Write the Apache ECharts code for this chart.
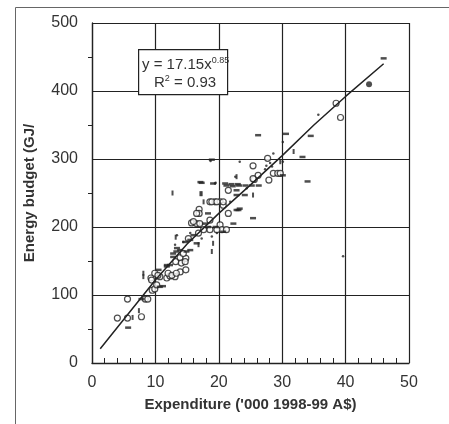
<!DOCTYPE html>
<html>
<head>
<meta charset="utf-8">
<script src="https://cdn.jsdelivr.net/npm/echarts@6/dist/echarts.min.js"></script>
<style>
  html, body { margin: 0; padding: 0; background: #fff; }
  #chart { width: 449px; height: 424px; }
</style>
</head>
<body>
<div id="chart"></div>
<script>
// values
const xTicks = [0, 10, 20, 30, 40, 50]
const yTicks = [0, 100, 200, 300, 400, 500]

// open circles
const circlePts = [
  [5.6, 94], [4.0, 66], [5.6, 66], [7.8, 68], [8.4, 94], [8.8, 94],
  [9.5, 107], [9.9, 109], [10.2, 115], [9.3, 125], [10.7, 127], [11.8, 125],
  [12.3, 128], [13.1, 127], [13.9, 134], [14.8, 137], [9.9, 132], [13.2, 149],
  [13.9, 155], [14.1, 147], [14.8, 154], [15.7, 206], [16.5, 205], [16.9, 226],
  [16.9, 220], [18.6, 237], [19.4, 237], [20.2, 237], [21.5, 220], [25.4, 290],
  [25.6, 270], [26.2, 276], [27.7, 301], [27.9, 269], [28.6, 279], [29.3, 279],
  [38.5, 382], [39.2, 361], [9.4, 122], [12.0, 132], [12.6, 129], [13.3, 132],
  [14.7, 149], [21.5, 254], [18.9, 237], [19.7, 237], [20.7, 232], [16.5, 220],
  [18.6, 210], [16.0, 208], [20.2, 203], [20.5, 196], [19.7, 196], [18.6, 196],
  [17.6, 196], [16.8, 191], [29.7, 279], [25.4, 271], [20.7, 237], [21.2, 196],
  [17.0, 205], [15.2, 183], [10.4, 129], [14.4, 161]
]

// short horizontal dashes
const dashPts = [
  [5.7, 52], [7.8, 94], [11.2, 113], [10.5, 137], [11.8, 142], [12.3, 144],
  [12.8, 156], [13.3, 164], [13.9, 166], [14.9, 164], [15.5, 166], [17.1, 266],
  [22.3, 205], [23.1, 225], [23.2, 261], [24.2, 261], [25.2, 261], [26.3, 261],
  [25.4, 213], [26.2, 335], [30.1, 276], [30.6, 337], [33.2, 303], [34.5, 334],
  [34.0, 267], [46.0, 448], [17.3, 265], [19.1, 264], [21.0, 264], [22.0, 263],
  [23.0, 263], [22.8, 247], [23.3, 227], [18.3, 220], [20.7, 193], [18.9, 299],
  [21.2, 261], [22.2, 260], [22.8, 254], [24.1, 247], [22.8, 225], [16.5, 176],
  [11.8, 144], [10.7, 112], [17.8, 205], [12.8, 161], [15.5, 181], [14.7, 178],
  [13.4, 169], [16.0, 188], [18.3, 200], [19.5, 200]
]

// small vertical ticks
const tickPts = [
  [7.4, 77], [8.1, 132], [8.1, 127], [13.2, 185], [12.7, 250], [17.1, 249],
  [25.4, 247], [31.8, 311], [17.6, 237], [18.9, 164], [22.8, 274], [17.3, 249],
  [29.7, 296], [19.1, 176], [16.8, 174], [6.4, 67]
]

// dots and specks
const dotPts = [
  [23.3, 296], [18.7, 297], [27.5, 290], [27.3, 285], [28.6, 308], [30.1, 296],
  [30.1, 325], [35.7, 365], [39.6, 157], [28.1, 294], [28.4, 289], [19.4, 264],
  [21.8, 237], [18.9, 186], [17.3, 183], [13.4, 188], [13.1, 174], [19.5, 265],
  [22.6, 274], [14.4, 178], [19.7, 191], [15.5, 191], [24.4, 257]
]

// solid marker
const filledPts = [[43.7, 410]]

// fitted line, points
const fitX = [1.3, 5, 10, 15, 20, 25, 30, 35, 40, 46]
const fitY = [21, 64, 122, 175, 220, 262, 305, 350, 392, 440]

const ink = '#222'
const chart = echarts.init(document.getElementById('chart'))

chart.setOption({
  animation: false,
  backgroundColor: '#fff',
  textStyle: { fontFamily: 'Liberation Sans, Arial, sans-serif' },
  grid: { left: 92, right: 40, top: 23, bottom: 61 },
  xAxis: {
    type: 'value',
    min: xTicks[0],
    max: xTicks[xTicks.length - 1],
    interval: 10,
    name: "Expenditure ('000 1998-99 A$)",
    nameLocation: 'middle',
    nameGap: 34,
    nameTextStyle: { fontSize: 15, fontWeight: 'bold', color: '#333' },
    axisLine: { show: true, lineStyle: { color: ink, width: 1.3 } },
    axisTick: { show: true, inside: true, length: 5, lineStyle: { color: ink } },
    minorTick: { show: true, splitNumber: 5, length: 5, lineStyle: { color: ink } },
    axisLabel: { fontSize: 16, color: '#333', margin: 12 },
    splitLine: { show: true, lineStyle: { color: ink, width: 1.2 } }
  },
  yAxis: {
    type: 'value',
    min: yTicks[0],
    max: yTicks[yTicks.length - 1],
    interval: 100,
    name: 'Energy budget (GJ/',
    nameLocation: 'middle',
    nameGap: 55,
    nameTextStyle: { fontSize: 15, fontWeight: 'bold', color: '#333' },
    axisLine: { show: true, lineStyle: { color: ink, width: 1.3 } },
    axisTick: { show: false },
    minorTick: { show: true, splitNumber: 2, length: 4, lineStyle: { color: ink } },
    axisLabel: { fontSize: 16, color: '#333', margin: 14 },
    splitLine: { show: true, lineStyle: { color: ink, width: 1.2 } }
  },
  series: [
    {
      type: 'line',
      data: fitX.map((x, i) => [x, fitY[i]]),
      showSymbol: false,
      lineStyle: { color: ink, width: 1.5 },
      z: 3
    },
    {
      type: 'scatter',
      data: circlePts,
      symbol: 'circle',
      symbolSize: 6,
      itemStyle: { color: '#fff', borderColor: ink, borderWidth: 1.2 }
    },
    {
      type: 'scatter',
      data: dashPts,
      symbol: 'rect',
      symbolSize: [6, 2.5],
      itemStyle: { color: ink }
    },
    {
      type: 'scatter',
      data: tickPts,
      symbol: 'rect',
      symbolSize: [2, 5],
      itemStyle: { color: ink }
    },
    {
      type: 'scatter',
      data: dotPts,
      symbol: 'circle',
      symbolSize: 2.5,
      itemStyle: { color: ink }
    },
    {
      type: 'scatter',
      data: filledPts,
      symbol: 'circle',
      symbolSize: 6,
      itemStyle: { color: ink }
    }
  ],
  graphic: [
    {
      type: 'rect',
      left: 13, top: 5,
      shape: { width: 450, height: 418 },
      style: { fill: 'none', stroke: '#666', lineWidth: 1 },
      silent: true
    },
    {
      type: 'rect',
      left: 138, top: 49,
      shape: { width: 89, height: 45 },
      style: { fill: '#fff', stroke: ink, lineWidth: 1.2 },
      z: 10
    },
    {
      type: 'text',
      left: 142, top: 56,
      style: {
        text: '{a|y = 17.15x}{s|0.85}',
        rich: {
          a: { fontSize: 15, fill: '#333', fontFamily: 'Liberation Sans' },
          s: { fontSize: 9, fill: '#333', fontFamily: 'Liberation Sans', verticalAlign: 'top', padding: [0, 0, 8, 0] }
        }
      },
      z: 11
    },
    {
      type: 'text',
      left: 154, top: 74,
      style: {
        text: '{a|R}{s|2}{a| = 0.93}',
        rich: {
          a: { fontSize: 15, fill: '#333', fontFamily: 'Liberation Sans' },
          s: { fontSize: 9, fill: '#333', fontFamily: 'Liberation Sans', padding: [0, 0, 8, 0] }
        }
      },
      z: 11
    }
  ]
})
</script>
</body>
</html>
